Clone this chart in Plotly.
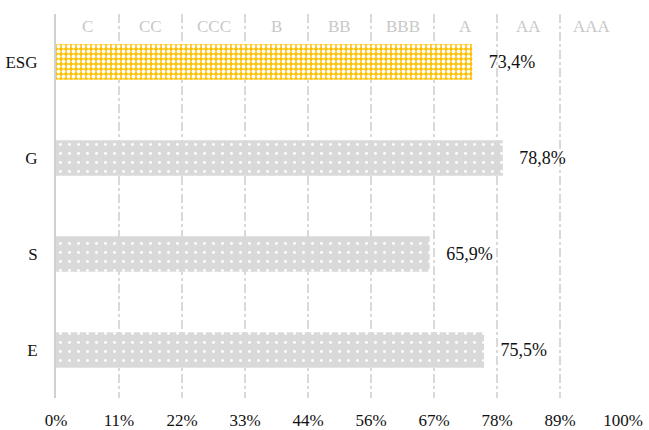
import plotly.graph_objects as go

categories = ["E", "S", "G", "ESG"]
values = [0.755, 0.659, 0.788, 0.734]
ratings = ["C", "CC", "CCC", "B", "BB", "BBB", "A", "AA", "AAA"]
tick_vals = [i / 9 for i in range(10)]

FONT = "Liberation Serif"


def fmt(v):
    return "   " + f"{v*100:.1f}%".replace(".", ",")


fig = go.Figure()
# E, S, G bars (gray with white dots)
fig.add_trace(go.Bar(
    y=categories[:3], x=values[:3], orientation="h",
    marker=dict(
        color="#d9d9d9", line=dict(width=0),
        pattern=dict(shape=".", bgcolor="#d9d9d9", fgcolor="white",
                     size=9, solidity=0.08, fillmode="replace"),
    ),
    text=[fmt(v) for v in values[:3]], textposition="outside", cliponaxis=False,
    textfont=dict(family=FONT, size=18, color="#111111"),
    width=0.37,
))
# ESG bar (yellow with white pattern)
fig.add_trace(go.Bar(
    y=categories[3:], x=values[3:], orientation="h",
    marker=dict(
        color="#ffc000", line=dict(width=0),
        pattern=dict(shape=".", bgcolor="#ffc000", fgcolor="white",
                     size=5, solidity=0.45, fillmode="replace"),
    ),
    text=[fmt(v) for v in values[3:]], textposition="outside", cliponaxis=False,
    textfont=dict(family=FONT, size=18, color="#111111"),
    width=0.37,
))

annotations = []
for i, r in enumerate(ratings):
    annotations.append(dict(
        x=(i + 0.5) / 9, y=1 - 12 / 384, xref="x", yref="paper", text=r,
        showarrow=False, yanchor="middle",
        font=dict(family=FONT, size=17, color="#c8c8c8"),
    ))

fig.update_layout(
    width=649, height=430,
    margin=dict(l=56, r=26, t=14, b=32),
    plot_bgcolor="white", paper_bgcolor="white",
    showlegend=False, barmode="overlay",
    annotations=annotations,
    xaxis=dict(
        range=[0, 1], tickvals=tick_vals, tickformat=".0%",
        showgrid=True, gridcolor="#d9d9d9", griddash="dashdot", gridwidth=1.5,
        zeroline=False, showline=False, ticks="", ticklabelstandoff=10,
        tickfont=dict(family=FONT, size=17, color="#111111"),
        automargin=False, fixedrange=True,
    ),
    yaxis=dict(
        showline=True, linecolor="#d0d0d0", linewidth=2,
        showgrid=False, ticks="", ticklabelstandoff=13,
        tickfont=dict(family=FONT, size=17, color="#111111"),
        categoryorder="array", categoryarray=categories,
        range=[-0.5, 3.5], automargin=False,
    ),
)

fig.write_html("out.html", config={"displayModeBar": False},
               post_script="document.body.style.margin='0px';")
